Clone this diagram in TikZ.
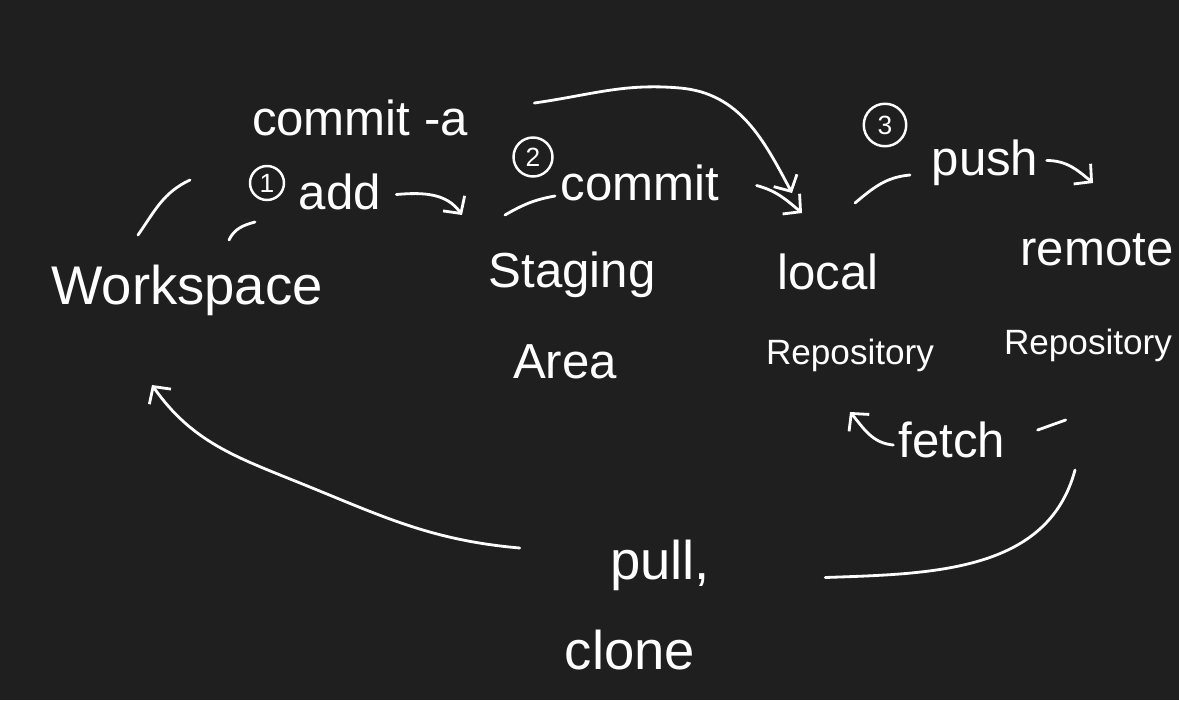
\documentclass[tikz,border=0pt]{standalone}
\usepackage{fontspec}
\setmainfont{Liberation Sans}
\usetikzlibrary{arrows.meta}
\definecolor{bgCol}{HTML}{1F1F1F}
\definecolor{inkCol}{HTML}{FFFFFF}
\tikzset{
  lbl/.style={text=inkCol, inner sep=0pt, font=\fontsize{28}{32}\selectfont},
  biglbl/.style={lbl, font=\fontsize{31}{36}\selectfont},
  sublbl/.style={text=inkCol, inner sep=0pt, font=\fontsize{20}{24}\selectfont},
  num/.style={draw=inkCol, circle, line width=1.4pt, text=inkCol, inner sep=1.5pt,
              minimum size=#1, font=\fontsize{15}{16}\selectfont},
  num/.default=0.78cm,
  hand/.style={draw=inkCol, line width=1.6pt, line cap=round},
  arr/.style={hand, -{Straight Barb[length=7pt,width=15pt,line width=1.6pt]}},
}
\begin{document}
\begin{tikzpicture}[x=0.02cm, y=-0.02cm]
  \fill[bgCol] (0,0) rectangle (1179,700);

  % stations
  \node[biglbl] (ws) at (187,290) {Workspace};
  \node[lbl] (stg) at (572,275) {Staging};
  \node[lbl] (area) at (565,362) {Area};
  \node[lbl] (loc) at (828,272) {local};
  \node[sublbl] (locrep) at (850,355) {Repository};
  \node[lbl] (rem) at (1097,250) {remote};
  \node[sublbl] (remrep) at (1088,345) {Repository};

  % commands
  \node[lbl] (cma) at (360,118) {commit -a};
  \node[num=0.68cm] (n1) at (267,183) {1};
  \node[lbl] (add) at (340,192) {add};
  \node[num] (n2) at (533,157) {2};
  \node[lbl] (cmt) at (640,183) {commit};
  \node[num=0.85cm] (n3) at (885,125) {3};
  \node[lbl] (push) at (985,163) {push};
  \node[lbl] (fetch) at (952,440) {fetch};
  \node[biglbl] (pull) at (660,565) {pull,};
  \node[biglbl] (clone) at (630,650) {clone};

  % free ends
  \coordinate (cmaEnd) at (792,193);
  \coordinate (addEnd) at (462,215);
  \coordinate (cmtEnd) at (802,213);
  \coordinate (pushEnd) at (1093,183);
  \coordinate (fetchEnd) at (850,412);
  \coordinate (pullEnd) at (152,385);
  \coordinate (remBot) at (1075,470);

  % arrows
  \draw[arr] ([xshift=1.32cm,yshift=0.3cm]cma.east) to[out=8,in=175] (680,88)
            to[out=-5,in=118] (cmaEnd);
  \draw[arr] ([xshift=0.3cm,yshift=-0.05cm]add.east) to[out=5,in=125] (addEnd);
  \draw[arr] ([xshift=0.74cm,yshift=-0.05cm]cmt.east) to[out=-15,in=140] (cmtEnd);
  \draw[arr] ([xshift=0.16cm,yshift=0.05cm]push.east) to[out=0,in=140] (pushEnd);
  \draw[arr] ([xshift=-0.1cm,yshift=-0.1cm]fetch.west) to[out=175,in=-50] (fetchEnd);
  \draw[arr] ([xshift=-1.8cm,yshift=0.34cm]pull.west) to[out=175,in=-22] (300,483)
            to[out=158,in=-55] (pullEnd);
  \draw[hand] (remBot) to[out=-105,in=2] ([xshift=2.3cm,yshift=-0.25cm]pull.east);
  \draw[hand] ([xshift=0.64cm,yshift=0.2cm]fetch.east) -- ++(28,-10);

  % strokes
  \draw[hand] (138,235) to[out=55,in=205] (190,180);
  \draw[hand] (229,240) to[out=65,in=195] (255,222);
  \draw[hand] (505,215) to[out=30,in=190] (555,196);
  \draw[hand] (855,203) to[out=40,in=185] (910,175);
\end{tikzpicture}
\end{document}
